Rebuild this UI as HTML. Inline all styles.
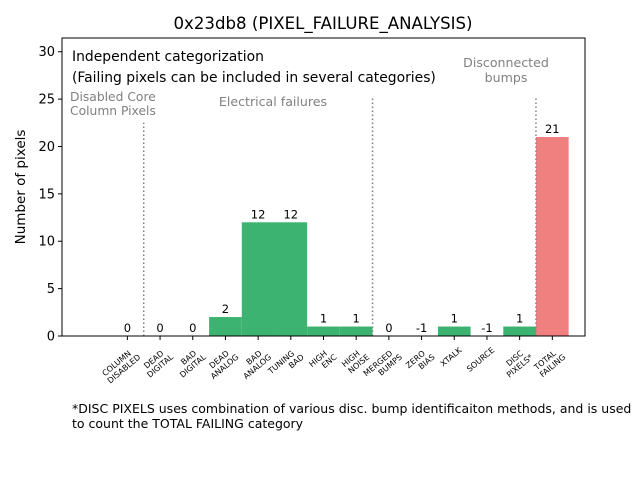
<!DOCTYPE html>
<html><head><meta charset="utf-8"><style>
body{margin:0;background:#fff}
svg{display:block;font-family:"DejaVu Sans","Liberation Sans",sans-serif}
</style></head><body>
<svg id="c" width="640" height="480" xmlns="http://www.w3.org/2000/svg">
<rect width="640" height="480" fill="#fff"/>
<text x="323" y="29" font-size="16.6" text-anchor="middle">0x23db8 (PIXEL_FAILURE_ANALYSIS)</text>
<g id="marks"></g>
<rect x="62" y="38" width="523" height="298" fill="none" stroke="#000" stroke-width="1"/>
<text transform="translate(25,187) rotate(-90)" font-size="13.5" text-anchor="middle">Number of pixels</text>
<text x="72" y="61" font-size="13.9">Independent categorization</text>
<text x="72" y="82" font-size="13.9">(Failing pixels can be included in several categories)</text>
<text x="70" y="101" font-size="12.3" fill="#808080">Disabled Core</text>
<text x="70" y="115" font-size="12.3" fill="#808080">Column Pixels</text>
<text x="273" y="106" font-size="12.6" fill="#808080" text-anchor="middle">Electrical failures</text>
<text x="506" y="67" font-size="12.6" fill="#808080" text-anchor="middle">Disconnected</text>
<text x="506" y="82" font-size="12.6" fill="#808080" text-anchor="middle">bumps</text>
<text x="72" y="413" font-size="12.5">*DISC PIXELS uses combination of various disc. bump identificaiton methods, and is used</text>
<text x="72" y="428" font-size="12.5">to count the TOTAL FAILING category</text>
</svg>
<script>
const categories=[["COLUMN","DISABLED"],["DEAD","DIGITAL"],["BAD","DIGITAL"],["DEAD","ANALOG"],["BAD","ANALOG"],["TUNING","BAD"],["HIGH","ENC"],["HIGH","NOISE"],["MERGED","BUMPS"],["ZERO","BIAS"],["XTALK"],["SOURCE"],["DISC","PIXELS*"],["TOTAL","FAILING"]];
const values=[0,0,0,2,12,12,1,1,0,-1,1,-1,1,21];
const yTicks=[0,5,10,15,20,25,30];
const separators=[0.5,7.5,12.5];
const separatorTops=[22.5,25.3,25.3];
const NS="http://www.w3.org/2000/svg";
const g=document.getElementById('marks');
const X0=62,X1=585,Y0=336,Y1=38,xmin=-2,xmax=14.0,ymin=0,ymax=31.45;
const xs=v=>X0+(v-xmin)/(xmax-xmin)*(X1-X0);
const ys=v=>Y0-(v-ymin)/(ymax-ymin)*(Y0-Y1);
function mk(t,a){const e=document.createElementNS(NS,t);for(const k in a)e.setAttribute(k,a[k]);g.appendChild(e);return e;}
values.forEach((v,i)=>{
 const top=Math.max(v,0);
 if(v>0){
  const r=mk('rect',{x:xs(i-0.5),y:ys(v),width:xs(i+0.5)-xs(i-0.5),height:ys(0)-ys(v),fill:i===values.length-1?'#f08080':'#3cb371'});
  
  
 }
 const t=mk('text',{x:xs(i),y:ys(top)-4,'font-size':11.5,'text-anchor':'middle'});
 t.textContent=String(v);
 
 
 const tk=mk('line',{x1:xs(i),x2:xs(i),y1:Y0,y2:Y0+4,stroke:'#000'});
 
 
 const lab=mk('text',{transform:`translate(${xs(i)+8},${Y0+15}) rotate(-40)`,'font-size':8,'text-anchor':'end'});
 
 
 categories[i].forEach((s,j)=>{const ts=document.createElementNS(NS,'tspan');ts.setAttribute('x',0);ts.setAttribute('dy',j?9:0);ts.textContent=s;lab.appendChild(ts);});
 if(categories[i].length>1){lab.firstChild.setAttribute('x',-5);}
});
yTicks.forEach(v=>{
 const l=mk('line',{x1:X0-4,x2:X0,y1:ys(v),y2:ys(v),stroke:'#000'});
 
 
 const t=mk('text',{x:X0-7,y:ys(v)+4.5,'font-size':13,'text-anchor':'end'});
 t.textContent=v;
 
 
});
separators.forEach((s,i)=>{
 const l=mk('line',{x1:xs(s),x2:xs(s),y1:Y0,y2:ys(separatorTops[i]),stroke:'#808080','stroke-width':1.5,'stroke-dasharray':'1.5,2.5'});
 
 
});
</script>
</body></html>
